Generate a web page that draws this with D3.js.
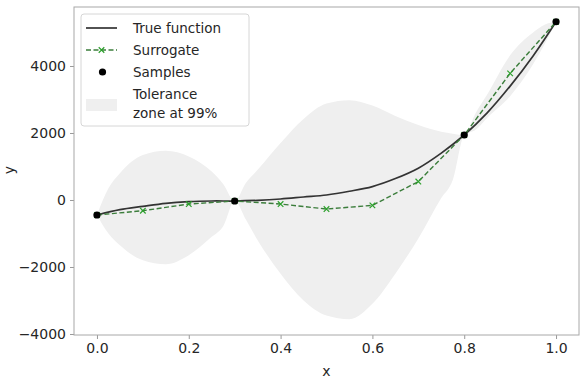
<!DOCTYPE html>
<html>
<head>
<meta charset="utf-8">
<script src="https://cdn.jsdelivr.net/npm/d3@7"></script>
<style>
  body { margin: 0; background: #fff; }
  text { font-family: "DejaVu Sans", sans-serif; fill: #262626; }
</style>
</head>
<body>
<div class="chart"></div>
<script>
// samples / surrogate / true function
const xs = [0, 0.1, 0.2, 0.3, 0.4, 0.5, 0.6, 0.7, 0.8, 0.9, 1.0];
const surrogate = [-448, -320, -120, -30, -120, -270, -160, 550, 1940, 3780, 5320];

const sampleX = [0, 0.3, 0.8, 1.0];
const sampleY = [-448, -30, 1940, 5320];

const trueX = [0, 0.05, 0.1, 0.15, 0.2, 0.25, 0.3, 0.35, 0.4, 0.45, 0.5, 0.55, 0.6, 0.65, 0.7, 0.75, 0.8, 0.85, 0.9, 0.95, 1.0];
const trueY = [-448, -290, -190, -100, -50, -30, -30, -10, 30, 90, 150, 260, 400, 640, 950, 1400, 1940, 2600, 3400, 4300, 5320];

const bandX = [0, 0.025, 0.05, 0.1, 0.15, 0.2, 0.25, 0.275, 0.3, 0.325, 0.35, 0.4, 0.45, 0.5, 0.55, 0.6, 0.65, 0.7, 0.75, 0.775, 0.8, 0.825, 0.85, 0.9, 0.95, 0.975, 1.0];
const bandUpper = [-448, 350, 800, 1340, 1470, 1300, 850, 480, -30, 520, 900, 1700, 2420, 2880, 2980, 2820, 2510, 2240, 2040, 1980, 1940, 2600, 3150, 4320, 5000, 5230, 5320];
const bandLower = [-448, -1000, -1350, -1800, -1920, -1650, -1100, -780, -30, -600, -1200, -2200, -3000, -3450, -3560, -3100, -2200, -1150, 60, 600, 1940, 2100, 2450, 3100, 4050, 4650, 5320];

const xTicks = [0, 0.2, 0.4, 0.6, 0.8, 1.0];
const yTicks = [-4000, -2000, 0, 2000, 4000];
const legendLabels = ["True function", "Surrogate", "Samples", "Tolerance", "zone at 99%"];

const width = 584;
const height = 382;
const margin = {top: 7, right: 5, bottom: 47, left: 74};

const svg = d3.select('.chart')
    .append('svg')
    .attr('width', width)
    .attr('height', height);

const xScale = d3.scaleLinear()
    .domain([-0.05, 1.05])
    .range([margin.left, width - margin.right]);

const yScale = d3.scaleLinear()
    .domain([-4030, 5761])
    .range([height - margin.bottom, margin.top]);

// tolerance band
const band = bandX.map((x, i) => ({x: x, lo: bandLower[i], hi: bandUpper[i]}));
svg.append('path')
    .datum(band)
    .attr('fill', '#efefef')
    .attr('d', d3.area()
        .x(d => xScale(d.x))
        .y0(d => yScale(d.lo))
        .y1(d => yScale(d.hi))
        .curve(d3.curveMonotoneX));

// axes
const xAxis = d3.axisBottom(xScale)
    .tickValues(xTicks)
    .tickFormat(d3.format('.1f'))
    .tickSizeOuter(0)
    .tickSize(4)
    .tickPadding(4);

const yAxis = d3.axisLeft(yScale)
    .tickValues(yTicks)
    .tickFormat(d => d < 0 ? '\u2212' + Math.abs(d) : d)
    .tickSizeOuter(0)
    .tickSize(4)
    .tickPadding(4);

const gx = svg.append('g')
    .attr('transform', `translate(0,${height - margin.bottom})`)
    .call(xAxis);
const gy = svg.append('g')
    .attr('transform', `translate(${margin.left},0)`)
    .call(yAxis);

[gx, gy].forEach(g => {
    g.select('.domain').remove();
    g.selectAll('.tick line').attr('stroke', '#999');
    g.selectAll('.tick text').style('font-size', '14px').attr('fill', '#262626');
});

// frame
svg.append('rect')
    .attr('x', margin.left)
    .attr('y', margin.top)
    .attr('width', width - margin.left - margin.right)
    .attr('height', height - margin.top - margin.bottom)
    .attr('fill', 'none')
    .attr('stroke', '#a8a8a8')
    .attr('stroke-width', 1);

// true function
const trueData = trueX.map((x, i) => [x, trueY[i]]);
svg.append('path')
    .datum(trueData)
    .attr('fill', 'none')
    .attr('stroke', '#333')
    .attr('stroke-width', 1.7)
    .attr('d', d3.line()
        .x(d => xScale(d[0]))
        .y(d => yScale(d[1]))
        .curve(d3.curveCatmullRom));

// surrogate
const surData = xs.map((x, i) => [x, surrogate[i]]);
svg.append('path')
    .datum(surData)
    .attr('fill', 'none')
    .attr('stroke', '#3b7d3b')
    .attr('stroke-width', 1.4)
    .attr('stroke-dasharray', '5,2.5')
    .attr('d', d3.line()
        .x(d => xScale(d[0]))
        .y(d => yScale(d[1])));

const cross = d3.symbol().type(d3.symbolX).size(22);
svg.selectAll('.smark')
    .data(surData)
    .enter()
    .append('path')
    .attr('class', 'smark')
    .attr('transform', d => `translate(${xScale(d[0])},${yScale(d[1])})`)
    .attr('d', cross)
    .attr('fill', 'none')
    .attr('stroke', '#2ca02c')
    .attr('stroke-width', 1.2);

// samples
svg.selectAll('.sample')
    .data(sampleX.map((x, i) => [x, sampleY[i]]))
    .enter()
    .append('circle')
    .attr('class', 'sample')
    .attr('cx', d => xScale(d[0]))
    .attr('cy', d => yScale(d[1]))
    .attr('r', 3.6)
    .attr('fill', '#000');

// axis labels
svg.append('text')
    .attr('x', xScale(0.5))
    .attr('y', 376)
    .attr('text-anchor', 'middle')
    .style('font-size', '14px')
    .text('x');

svg.append('text')
    .attr('transform', 'translate(14,170) rotate(-90)')
    .attr('text-anchor', 'middle')
    .style('font-size', '14px')
    .text('y');

// legend
const lg = svg.append('g');
lg.append('rect')
    .attr('x', 81)
    .attr('y', 14)
    .attr('width', 168)
    .attr('height', 112)
    .attr('rx', 3)
    .attr('fill', '#fff')
    .attr('fill-opacity', 0.8)
    .attr('stroke', '#d6d6d6');

lg.append('line')
    .attr('x1', 86).attr('x2', 117)
    .attr('y1', 28).attr('y2', 28)
    .attr('stroke', '#333')
    .attr('stroke-width', 1.7);

lg.append('line')
    .attr('x1', 86).attr('x2', 117)
    .attr('y1', 50).attr('y2', 50)
    .attr('stroke', '#3b7d3b')
    .attr('stroke-width', 1.4)
    .attr('stroke-dasharray', '5,2.5');
lg.append('path')
    .attr('transform', 'translate(101.5,50)')
    .attr('d', cross)
    .attr('fill', 'none')
    .attr('stroke', '#2ca02c')
    .attr('stroke-width', 1.2);

lg.append('circle')
    .attr('cx', 102.5)
    .attr('cy', 72)
    .attr('r', 3.6)
    .attr('fill', '#000');

lg.append('rect')
    .attr('x', 86)
    .attr('y', 99)
    .attr('width', 31)
    .attr('height', 12)
    .attr('fill', '#efefef');

lg.selectAll('.ltext')
    .data(legendLabels)
    .enter()
    .append('text')
    .attr('class', 'ltext')
    .attr('x', 133)
    .attr('y', (d, i) => [28, 50, 72, 94, 113][i])
    .attr('dy', '0.36em')
    .style('font-size', '13.5px')
    .text(d => d);
</script>
</body>
</html>
